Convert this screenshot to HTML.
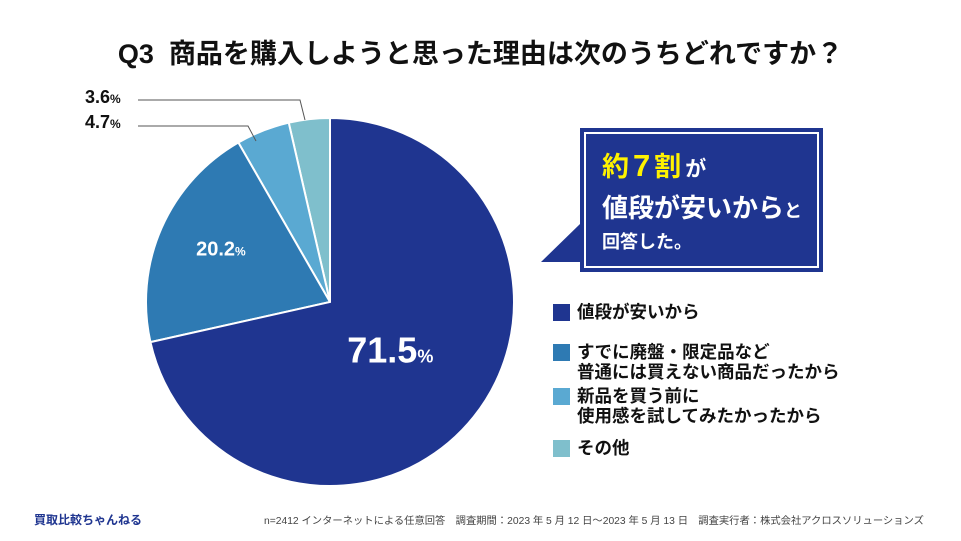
<!DOCTYPE html>
<html><head><meta charset="utf-8"><style>
body{margin:0;width:961px;height:541px;background:#fff;font-family:"Liberation Sans","Noto Sans CJK JP",sans-serif;overflow:hidden;position:relative}
.t{position:absolute;white-space:nowrap}
</style></head><body>
<div class="t" style="left:0;width:961px;text-align:center;top:32px;font-size:27px;font-weight:bold;color:#111">Q3&nbsp; 商品を購入しようと思った理由は次のうちどれですか？</div>
<svg id="pie" width="961" height="541" style="position:absolute;left:0;top:0">
<polygon points="541,262 580,224 580,262" fill="#1f3590"/>
<rect x="580" y="128" width="243" height="144" fill="#1f3590"/>
<rect x="585" y="133" width="233" height="134" fill="none" stroke="#fff" stroke-width="2"/>
<text x="602" y="176" font-size="27" font-weight="bold" fill="#fff200" font-family="Liberation Sans,Noto Sans CJK JP,sans-serif">約<tspan font-size="31" dx="4">7</tspan><tspan dx="4">割</tspan><tspan fill="#fff" font-size="21" dx="4">が</tspan></text>
<text x="602" y="217" font-size="26" font-weight="bold" fill="#fff" font-family="Liberation Sans,Noto Sans CJK JP,sans-serif">値段が安いから<tspan font-size="18">と</tspan></text>
<text x="602" y="248" font-size="18" font-weight="bold" fill="#fff" font-family="Liberation Sans,Noto Sans CJK JP,sans-serif">回答した。</text>
<polyline points="138,100 300,100 305,120" fill="none" stroke="#555" stroke-width="1"/>
<polyline points="138,126 248,126 256,141" fill="none" stroke="#555" stroke-width="1"/>
<text x="85" y="103" font-size="18" font-weight="bold" fill="#111" font-family="Liberation Sans,sans-serif">3.6<tspan font-size="12">%</tspan></text>
<text x="85" y="128" font-size="18" font-weight="bold" fill="#111" font-family="Liberation Sans,sans-serif">4.7<tspan font-size="12">%</tspan></text>
</svg>
<div class="t" style="left:553px;top:302px;font-size:17.5px;font-weight:bold;color:#111;line-height:20px"><span style="display:inline-block;width:17px;height:17px;background:#1f3590;vertical-align:-3px;margin-right:7px"></span>値段が安いから</div>
<div class="t" style="left:553px;top:342px;font-size:17.5px;font-weight:bold;color:#111;line-height:20px"><span style="display:inline-block;width:17px;height:17px;background:#2e7ab3;vertical-align:-3px;margin-right:7px"></span>すでに廃盤・限定品など<br><span style="margin-left:24px">普通には買えない商品だったから</span></div>
<div class="t" style="left:553px;top:386px;font-size:17.5px;font-weight:bold;color:#111;line-height:20px"><span style="display:inline-block;width:17px;height:17px;background:#5aa9d2;vertical-align:-3px;margin-right:7px"></span>新品を買う前に<br><span style="margin-left:24px">使用感を試してみたかったから</span></div>
<div class="t" style="left:553px;top:438px;font-size:17.5px;font-weight:bold;color:#111;line-height:20px"><span style="display:inline-block;width:17px;height:17px;background:#7fbfcc;vertical-align:-3px;margin-right:7px"></span>その他</div>
<div class="t" style="left:34px;top:511px;font-size:12px;font-weight:bold;color:#1f3590">買取比較ちゃんねる</div>
<div class="t" style="left:264px;top:512px;font-size:10.3px;color:#444">n=2412 インターネットによる任意回答　調査期間：2023 年 5 月 12 日〜2023 年 5 月 13 日　調査実行者：株式会社アクロスソリューションズ</div>
<script>
const categories=["値段が安いから","廃盤・限定品","新品を買う前に","その他"];
const values=[71.5,20.2,4.7,3.6];
const colors=["#1f3590","#2e7ab3","#5aa9d2","#7fbfcc"];
const labels=["71.5","20.2","",""];
const svg=document.getElementById('pie');
const cx=330,cy=302,r=184,NS="http://www.w3.org/2000/svg";
const total=values.reduce((a,b)=>a+b,0);
let a0=0;
values.forEach((v,i)=>{
  const a1=a0+v/total*2*Math.PI;
  const p=(a)=>[cx+r*Math.sin(a),cy-r*Math.cos(a)];
  const [x0,y0]=p(a0),[x1,y1]=p(a1);
  const path=document.createElementNS(NS,'path');
  path.setAttribute('d',`M${cx},${cy}L${x0},${y0}A${r},${r} 0 ${a1-a0>Math.PI?1:0} 1 ${x1},${y1}Z`);
  path.setAttribute('fill',colors[i]);path.setAttribute('stroke','#fff');path.setAttribute('stroke-width','2');
  
  
  svg.insertBefore(path,svg.firstChild);
  if(labels[i]){
    const am=(a0+a1)/2, lr=i==0?r*0.42:r*0.63;
    const t=document.createElementNS(NS,'text');
    t.setAttribute('x',cx+lr*Math.sin(am)-(i==0?0:3));t.setAttribute('y',cy-lr*Math.cos(am)+(i==0?12:0));
    t.setAttribute('text-anchor','middle');t.setAttribute('fill','#fff');t.setAttribute('font-weight','bold');
    t.setAttribute('font-family','Liberation Sans,sans-serif');t.setAttribute('font-size',i==0?36:20);
    t.innerHTML=labels[i]+`<tspan font-size="${i==0?18:12}">%</tspan>`;
    
    
    svg.appendChild(t);
  }
  a0=a1;
});
</script>
</body></html>
